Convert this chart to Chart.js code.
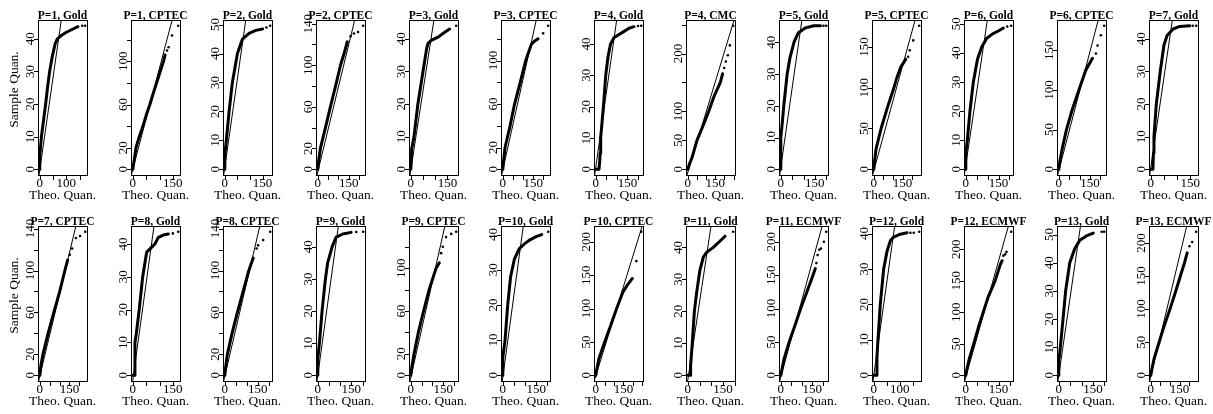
<!DOCTYPE html>
<html>
<head>
<meta charset="utf-8">
<script src="https://cdn.jsdelivr.net/npm/chart.js@4.4.0/dist/chart.umd.min.js"></script>
<style>
  html, body { margin: 0; padding: 0; background: #fff; }
  #fig { position: relative; width: 1213px; height: 414px; overflow: hidden; }
  #fig canvas { position: absolute; }
</style>
</head>
<body>
<div id="fig"></div>
<script>
// Q-Q panels, row by row (13 per row)
const titles = ['P=1, Gold', 'P=1, CPTEC', 'P=2, Gold', 'P=2, CPTEC', 'P=3, Gold', 'P=3, CPTEC', 'P=4, Gold',
  'P=4, CMC', 'P=5, Gold', 'P=5, CPTEC', 'P=6, Gold', 'P=6, CPTEC', 'P=7, Gold',
  'P=7, CPTEC', 'P=8, Gold', 'P=8, CPTEC', 'P=9, Gold', 'P=9, CPTEC', 'P=10, Gold', 'P=10, CPTEC',
  'P=11, Gold', 'P=11, ECMWF', 'P=12, Gold', 'P=12, ECMWF', 'P=13, Gold', 'P=13, ECMWF'];

// dense run of quantile points [theo, sample]
const bandPts = [
  [[0,0],[0,4],[2,6],[6,10],[14,15],[22,20],[29,25],[37,30],[48,35],[58,38.5],[66,40],[81,41],[100,42],[125,43],[144,43.7]],
  [[0,0],[3,5],[6,10],[12,20],[24,30],[38,40],[50,50],[64,60],[76,70],[89,80],[102,90],[115,100],[121,106]],
  [[0,0],[0,5],[6,10],[17,20],[30,30],[50,40],[70,45],[96,47],[123,48],[150,48.5]],
  [[0,0],[4,8],[12.4,20],[37,40],[61,60],[86,80],[110,100],[130,113],[143,122.6]],
  [[0,0],[2,3],[3,6],[8,8],[13,10],[29,20],[50,30],[65,37],[70,38.5],[84,39.5],[111,40.5],[139,42],[159,43]],
  [[0,0],[4,8],[11,20],[36,40],[58,60],[86,80],[113,100],[141,115],[158,118],[174,120]],
  [[0,0],[15,0],[19,3],[20,5],[23,10],[36,20],[47,30],[58,36],[70,40],[86,42],[110,43],[134,44],[157,45],[181,45.5]],
  [[0,0],[10,10],[23,20],[50,50],[83,75],[114,100],[142,125],[178,150],[190,165]],
  [[0,0],[0,10],[7,15],[13,20],[28,30],[40,35],[58,40],[77.5,43],[107.5,44.5],[145,45.2],[175,45.2]],
  [[0,0],[4,10],[11.7,25],[38,50],[70,75],[105,100],[117.5,110],[140,125],[167,135]],
  [[0,0],[0,5],[7,10],[19,20],[34.5,30],[54,38],[73,42],[96,45],[123,46.5],[149,47.5],[172,48.5]],
  [[0,0],[5,10],[15.7,25],[37,50],[64.6,75],[97,100],[130,125],[162.5,140]],
  [[0,0],[8,0],[10,5],[12,10],[21,20],[36,30],[50,38],[62,41],[85,43],[110,43.8],[148,44]],
  [[0,0],[6,10],[16,20],[42,40],[71,60],[101,80],[127,100],[141,110]],
  [[0,0],[8,0],[8,10],[12,12],[24,20],[37,30],[52,37.5],[71,39],[83,40],[96,42],[114,42.7],[133,43]],
  [[0,0],[4,8],[11.6,20],[33,40],[57.5,60],[83.6,80],[109.6,100],[129.5,112]],
  [[0,0],[0,5],[7,10],[19,20],[34,30],[44,35],[64,40],[82,43],[112,44],[149,44.5]],
  [[0,0],[5,8],[15,20],[35,40],[59,60],[85,80],[117,100],[132,105]],
  [[0,0],[0,5],[10,10],[22,20],[35,28],[52,33],[74,36],[100,37.5],[122,38.5],[152,39.5],[175,40]],
  [[0,0],[6,10],[17,25],[48,50],[81,75],[113,100],[147.5,125],[171,135],[198,145]],
  [[0,0],[12,0],[12,3],[19,10],[28,20],[38,26],[52,33],[66.5,37],[81,38.5],[109,40],[138,42],[159,43.5]],
  [[0,0],[5,8],[15.7,25],[40,50],[68,75],[95,100],[125,125],[154,150],[165,160]],
  [[0,0],[12,0],[12,5],[16,10],[25,20],[38,30],[51,35],[64,38],[76.5,39],[102,39.8],[128,40.2]],
  [[0,0],[5,10],[15,25],[36.5,50],[56.6,75],[79.8,100],[103,125],[134,150],[157,175],[166,182]],
  [[0,0],[0,5],[6.7,10],[18.5,20],[30,30],[48,40],[70,45],[92,48],[121,49.5],[151,50.5]],
  [[0,0],[6,10],[17,25],[43.4,50],[70,75],[100,100],[128,125],[154.5,150],[175.7,170],[190,185]]
];

// sparse upper-tail points
const tailPts = [
  [[160,44],[171,44]],
  [[128,110],[134,113],[147,124],[170,133]],
  [[165,49],[180,49.6]],
  [[159,128],[175,130.6],[195,132],[220,138]],
  [[186,44]],
  [[199,125],[224,132]],
  [[200,45.7],[215,45.8]],
  [[199,175],[208,186],[219,197],[230,214],[248,248]],
  [[188,45.2],[200,45.2]],
  [[179,138],[188,146],[206,158],[237,176]],
  [[190,49],[208,49.3]],
  [[179,146],[187,156],[203,169],[219,181]],
  [[160,44],[173,44]],
  [[152,115],[164,121],[183,131],[204,133],[230,137]],
  [[150,43.2],[170,43.7]],
  [[145,121],[152,124],[175,129],[207,137]],
  [[172,44.6],[203,44.7]],
  [[140,114],[148,120],[163,129],[187,132],[210,134]],
  [[204,40.8]],
  [[220,171],[246,215]],
  [[194,44.9]],
  [[170,168],[176,180],[184,188],[192,190],[206,200],[217,215]],
  [[141,40.2],[154,40.2],[175,40.5]],
  [[172,190],[180,192],[186,196],[207.6,228]],
  [[188,51],[199,51]],
  [[202,195],[216,201.5],[237,217]]
];

// reference (qq) line end points
const refLines = [
  [[-3,-1.76],[81,45.76]], [[-5.6,-5.3],[147,138]], [[-4.5,-2],[83,51.5]], [[-3.9,-5.5],[178.8,143.5]],
  [[-3.3,-1.76],[94.9,45.8]], [[-5.7,-5.3],[166,138]], [[-5.4,-1.8],[98.8,47.6]], [[-4.4,-9.9],[251,256]],
  [[-5,-1.8],[92.5,46.8]], [[-6,-7],[214.5,182]], [[-6.9,-2],[98.8,51.3]], [[-5.5,-7.2],[190,188]],
  [[-4.4,-1.8],[82,45.7]],
  [[-5.9,-5.5],[183,142.6]], [[-0.5,-1.7],[79.5,45.5]], [[-5.2,-5.5],[160,142.6]], [[-3.7,-1.8],[92,46.5]],
  [[-3.7,-5.4],[158.8,140.4]], [[-2.2,-1.6],[92,42.4]], [[-6.2,-6.4],[252,224]], [[-0.7,-1.8],[99.3,46.7]],
  [[-5.4,-8.6],[197.8,223.6]], [[-3.1,-1.6],[80.4,42.1]], [[-5.2,-9.1],[195.7,238]], [[-3.6,-2],[95,53]],
  [[-6,-8.7],[188,226]]
];

const yStep = [10,20,10,20,10,20,10,50,10,50,10,50,10, 20,10,20,10,20,10,50,10,50,10,50,10,50];
const xStep = 50;

const yLabels = [
  [0,10,20,30,40], [0,20,60,100], [0,10,20,30,40,50], [0,20,60,100,140], [0,10,20,30,40],
  [0,20,60,100], [0,10,20,30,40], [0,50,100,200], [0,10,20,30,40], [0,50,100,150],
  [0,10,20,30,40,50], [0,50,100,150], [0,10,20,30,40],
  [0,20,60,100,140], [0,10,20,30,40], [0,20,60,100,140], [0,10,20,30,40], [0,20,60,100],
  [0,10,20,30,40], [0,50,100,150,200], [0,10,20,30,40], [0,50,100,150,200], [0,10,20,30,40],
  [0,50,100,150,200], [0,10,20,30,40,50], [0,50,100,150,200]
];

const xLabels = titles.map((t, i) => (i === 0 || i === 22) ? [0, 100] : [0, 150]);

const SERIF = '"Liberation Serif", "DejaVu Serif", serif';

// R-style range: data extent plus 4% each side
function rLim(vals) {
  const lo = Math.min(...vals), hi = Math.max(...vals);
  const d = (hi - lo) * 0.04;
  return [lo - d, hi + d];
}

const rFrame = {
  id: 'rframe',
  afterDraw(chart, args, opts) {
    const ctx = chart.ctx, ca = chart.chartArea;
    const xs = chart.scales.x, ys = chart.scales.y;
    ctx.save();
    ctx.strokeStyle = '#000';
    ctx.fillStyle = '#000';
    ctx.lineWidth = 1;
    ctx.strokeRect(ca.left + 0.5, ca.top + 0.5, ca.right - ca.left, ca.bottom - ca.top);

    // y ticks
    ctx.font = '13px ' + SERIF;
    for (let v = 0; v <= ys.max; v += opts.yStep) {
      const p = Math.round(ys.getPixelForValue(v)) + 0.5;
      ctx.beginPath();
      ctx.moveTo(ca.left - 4, p);
      ctx.lineTo(ca.left, p);
      ctx.stroke();
      if (opts.yLabels.includes(v)) {
        ctx.save();
        ctx.translate(ca.left - 4.5, ys.getPixelForValue(v));
        ctx.rotate(-Math.PI / 2);
        ctx.textAlign = 'center';
        ctx.textBaseline = 'alphabetic';
        ctx.fillText(String(v), 0, 0);
        ctx.restore();
      }
    }
    // x ticks
    for (let v = 0; v <= xs.max; v += opts.xStep) {
      const p = Math.round(xs.getPixelForValue(v)) + 0.5;
      ctx.beginPath();
      ctx.moveTo(p, ca.bottom);
      ctx.lineTo(p, ca.bottom + 5);
      ctx.stroke();
      if (opts.xLabels.includes(v)) {
        ctx.textAlign = 'center';
        ctx.textBaseline = 'alphabetic';
        ctx.fillText(String(v), xs.getPixelForValue(v), ca.bottom + 12);
      }
    }
    const cx = (ca.left + ca.right) / 2;
    ctx.font = '13.5px ' + SERIF;
    ctx.textAlign = 'center';
    ctx.fillText('Theo. Quan.', cx, ca.bottom + 24);

    if (opts.yTitle) {
      ctx.save();
      ctx.translate(ca.left - 20, (ca.top + ca.bottom) / 2 - 8);
      ctx.rotate(-Math.PI / 2);
      ctx.fillText('Sample Quan.', 0, 0);
      ctx.restore();
    }

    ctx.font = 'bold 11.5px ' + SERIF;
    ctx.fillText(opts.title, cx, ca.top - 1.5);
    ctx.restore();
  }
};

const fig = document.getElementById('fig');

titles.forEach((title, i) => {
  const col = i % 13, row = Math.floor(i / 13);
  const cv = document.createElement('canvas');
  cv.width = 112;
  cv.height = 207;
  cv.style.left = (Math.round(38.3 + 92.58 * col) - 38) + 'px';
  cv.style.top = (row * 206) + 'px';
  fig.appendChild(cv);

  const all = bandPts[i].concat(tailPts[i]);
  const xl = rLim(all.map(p => p[0]));
  const yl = rLim(all.map(p => p[1]));
  const toXY = arr => arr.map(p => ({ x: p[0], y: p[1] }));

  new Chart(cv.getContext('2d'), {
    type: 'scatter',
    data: {
      datasets: [
        {
          data: toXY(refLines[i]),
          showLine: true,
          borderColor: '#000',
          borderWidth: 1,
          pointRadius: 0
        },
        {
          data: toXY(bandPts[i]),
          showLine: true,
          borderColor: '#000',
          borderWidth: 3,
          borderJoinStyle: 'round',
          borderCapStyle: 'round',
          pointRadius: 0
        },
        {
          data: toXY(tailPts[i]),
          backgroundColor: '#000',
          borderColor: '#000',
          borderWidth: 0,
          pointRadius: 1.3
        }
      ]
    },
    options: {
      responsive: false,
      animation: false,
      devicePixelRatio: 1,
      layout: { padding: { left: 38, right: 25, top: 20, bottom: 32 } },
      scales: {
        x: { type: 'linear', min: xl[0], max: xl[1], display: false },
        y: { type: 'linear', min: yl[0], max: yl[1], display: false }
      },
      plugins: {
        legend: { display: false },
        tooltip: { enabled: false },
        rframe: {
          title: title,
          yStep: yStep[i],
          xStep: xStep,
          yLabels: yLabels[i],
          xLabels: xLabels[i],
          yTitle: col === 0
        }
      }
    },
    plugins: [rFrame]
  });
});
</script>
</body>
</html>
